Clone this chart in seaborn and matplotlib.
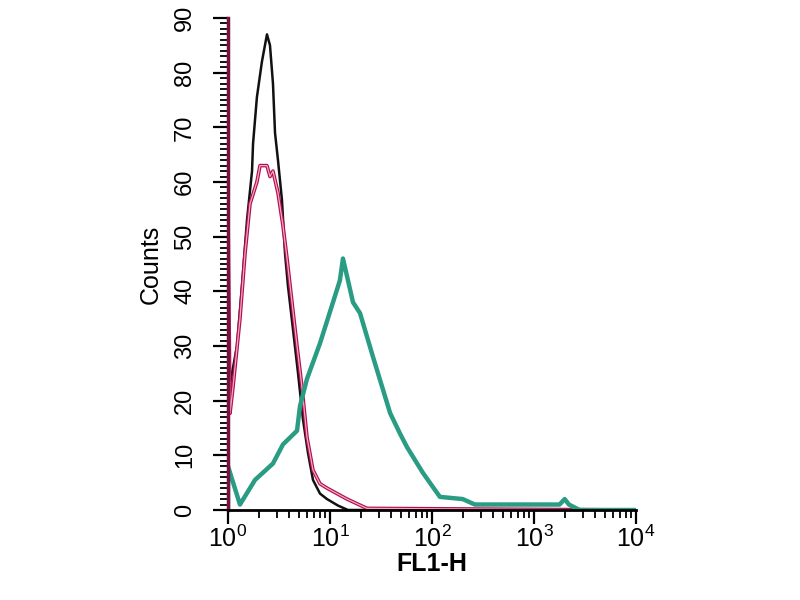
import matplotlib
matplotlib.use("Agg")
import matplotlib.pyplot as plt
import seaborn as sns
import pandas as pd
import numpy as np
from matplotlib.ticker import LogLocator, MultipleLocator, NullFormatter

# ---- data ----
black_x = [1.0, 1.046, 1.225, 1.37, 1.535, 1.72, 1.76, 1.92, 2.15, 2.41, 2.58, 2.76, 2.89, 3.09,
           3.38, 3.62, 3.87, 4.34, 4.86, 5.44, 6.09, 6.81, 7.98, 9.35, 12.0, 15.0, 10000.0]
black_y = [18, 23, 30, 41, 53, 62, 67, 75.5, 82, 87, 85, 78, 69, 64,
           56.7, 47, 41, 33, 25, 16.5, 10.4, 5.5, 3, 2, 0.8, 0, 0]

mag_x = [1.0, 1.0, 1.046, 1.12, 1.31, 1.47, 1.643, 1.92, 2.06, 2.41, 2.58, 2.76, 3.09, 3.46,
         3.79, 4.24, 4.75, 5.31, 5.95, 6.81, 7.98, 9.35, 14.7, 23.0, 10000.0]
mag_y = [0, 55, 17.7, 22.5, 35, 47, 56, 60, 63, 63, 61, 62, 58, 52,
         46, 38, 30, 22.5, 13.3, 7.3, 4.8, 4, 2, 0.3, 0]

teal_x = [1.0, 1.0, 1.31, 1.84, 2.76, 3.46, 4.75, 5.08, 5.95, 7.98, 10.7, 12.5, 13.4, 16.8, 19.7,
          26.4, 38.9, 48.5, 56.9, 81.4, 119.5, 200.0, 263.0, 1150.0, 1780.0, 2000.0, 2200.0,
          2800.0, 10000.0]
teal_y = [0, 8, 1, 5.5, 8.5, 12, 14.5, 19, 24, 30.5, 38, 42, 46, 38, 36,
          28, 17.7, 14, 11.5, 6.8, 2.4, 2, 1, 1, 1, 2, 1,
          0, 0]

y_ticks = [0, 10, 20, 30, 40, 50, 60, 70, 80, 90]
x_ticks = [1, 10, 100, 1000, 10000]
x_tick_labels = ["$10^0$", "$10^1$", "$10^2$", "$10^3$", "$10^4$"]

sns.set_theme(style="white")
plt.rcParams["font.family"] = ["Liberation Sans", "DejaVu Sans"]
plt.rcParams["mathtext.fontset"] = "custom"
plt.rcParams["mathtext.rm"] = "Liberation Sans"
plt.rcParams["mathtext.it"] = "Liberation Sans:italic"
plt.rcParams["mathtext.bf"] = "Liberation Sans:bold"
plt.rcParams["text.color"] = "black"
plt.rcParams["xtick.color"] = "black"
plt.rcParams["ytick.color"] = "black"
plt.rcParams["axes.labelcolor"] = "black"

fig = plt.figure(figsize=(8, 6), dpi=100)
ax = fig.add_axes([0.285, 0.15, 0.51, 0.82])

df_b = pd.DataFrame({"x": black_x, "y": black_y})
df_m = pd.DataFrame({"x": mag_x, "y": mag_y})
df_t = pd.DataFrame({"x": teal_x, "y": teal_y})

sns.lineplot(data=df_b, x="x", y="y", ax=ax, color="#111111", lw=1.8, sort=False, estimator=None)
sns.lineplot(data=df_m, x="x", y="y", ax=ax, color="#b0104e", lw=2.6, sort=False, estimator=None)
sns.lineplot(data=df_m, x="x", y="y", ax=ax, color="#f7a8c4", lw=0.9, sort=False, estimator=None)
sns.lineplot(data=df_t, x="x", y="y", ax=ax, color="#2a9c84", lw=3.2, sort=False, estimator=None)

ax.set_xscale("log")
ax.set_xlim(1, 10000)
ax.set_ylim(0, 90)

ax.set_xticks(x_ticks)
ax.set_xticklabels(x_tick_labels, fontsize=18)
ax.xaxis.set_minor_locator(LogLocator(base=10, subs=np.arange(2, 10)))
ax.xaxis.set_minor_formatter(NullFormatter())

ax.set_yticks(y_ticks)
ax.set_yticklabels([str(v) for v in y_ticks], fontsize=17, rotation=90, va="center")
ax.yaxis.set_minor_locator(MultipleLocator(1))

ax.tick_params(axis="y", which="major", direction="out", length=11, width=1.6, pad=12,
               left=True)
ax.tick_params(axis="y", which="minor", direction="out", length=6, width=1.3, left=True)
ax.tick_params(axis="x", which="major", direction="out", length=10, width=1.6, pad=1,
               bottom=True)
ax.tick_params(axis="x", which="minor", direction="out", length=6, width=1.3, bottom=True)

for s in ["top", "right"]:
    ax.spines[s].set_visible(False)
ax.spines["left"].set_color("#7a1240")
ax.spines["left"].set_linewidth(2.5)
ax.spines["bottom"].set_color("black")
ax.spines["bottom"].set_linewidth(2.0)

ax.set_xlabel("FL1-H", fontsize=18, fontweight="bold", labelpad=0)
ax.set_ylabel("Counts", fontsize=18, labelpad=8)

fig.savefig("out.png", dpi=100)
